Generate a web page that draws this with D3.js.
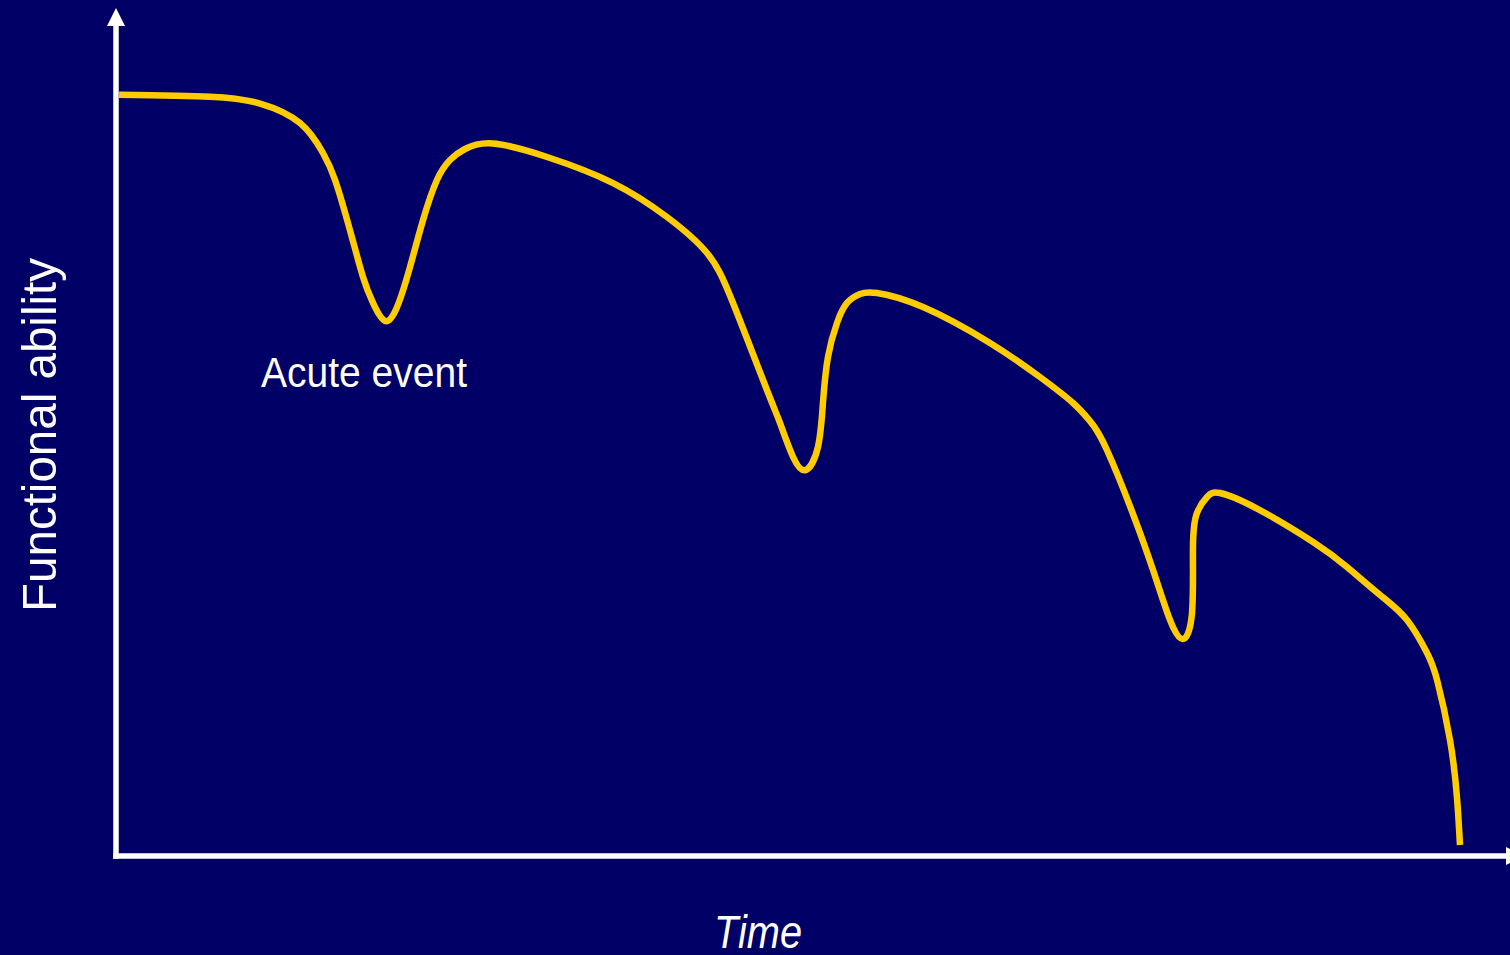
<!DOCTYPE html>
<html>
<head>
<meta charset="utf-8">
<script src="https://cdn.jsdelivr.net/npm/d3@7/dist/d3.min.js"></script>
<style>
  html, body { margin: 0; padding: 0; background: #000066; overflow: hidden; }
  svg { display: block; }
</style>
</head>
<body>
<svg id="chart" width="1510" height="955"></svg>
<script>
// Time (0–100) along the course of decline
const timePoints = [
  0.22, 6.76, 10.36, 13.24, 14.89, 15.76, 16.83, 17.77, 18.49, 19.35, 20.22,
  21.15, 22.09, 23.09, 24.03, 25.11, 27.12, 31.01, 35.76, 39.64, 42.52, 44.39,
  46.83, 47.77, 48.71, 49.64, 50.50, 50.86, 51.22, 51.87, 52.59,
  53.53, 54.75, 58.06, 62.88, 66.47, 68.85, 70.07, 71.29, 73.67, 75.32, 76.04,
  76.76, 77.41, 77.48, 77.77, 78.49, 79.42, 82.09, 86.12, 88.56,
  90.94, 92.88, 94.32, 95.04, 95.97, 96.47, 96.69
];
// Functional ability (0–100) at each time point
const abilityValues = [
  91.72, 91.48, 90.66, 88.31, 84.70, 81.45, 75.42, 69.76, 66.63, 64.46, 66.14,
  70.96, 76.63, 81.45, 83.86, 85.18, 85.84, 84.22, 81.08, 76.99, 72.65, 66.63,
  56.14, 52.17, 48.07, 46.51, 49.28, 54.58, 60.12, 64.22, 66.63,
  67.71, 67.83, 66.14, 61.81, 57.71, 54.58, 52.41, 48.92, 38.92, 30.84, 27.59,
  26.14, 29.28, 37.23, 41.33, 43.25, 43.73, 41.85, 37.83, 34.82,
  31.45, 28.43, 24.46, 21.20, 13.98, 7.11, 1.33
];
const xAxisTitle = "Time";
const yAxisTitle = "Functional ability";
const eventLabel = "Acute event";

const svg = d3.select("#chart");
const W = 1510, H = 955;

svg.append("rect").attr("width", W).attr("height", H).attr("fill", "#000066");

const x = d3.scaleLinear().domain([0, 100]).range([116, 1506]);
const y = d3.scaleLinear().domain([0, 100]).range([856, 26]);

const axisColor = "#ffffff";
const axisWidth = 5.5;

// y axis with arrow head
svg.append("line")
  .attr("x1", x(0)).attr("x2", x(0))
  .attr("y1", y(0) + axisWidth / 2).attr("y2", y(100))
  .attr("stroke", axisColor).attr("stroke-width", axisWidth);
svg.append("path")
  .attr("d", `M${x(0) - 9},${y(100)} L${x(0)},${y(100) - 18} L${x(0) + 9},${y(100)} Z`)
  .attr("fill", axisColor);

// x axis with arrow head
svg.append("line")
  .attr("x1", x(0) - axisWidth / 2).attr("x2", x(100))
  .attr("y1", y(0)).attr("y2", y(0))
  .attr("stroke", axisColor).attr("stroke-width", axisWidth);
svg.append("path")
  .attr("d", `M${x(100)},${y(0) - 9} L${x(100) + 18},${y(0)} L${x(100)},${y(0) + 9} Z`)
  .attr("fill", axisColor);

// Trajectory of functional ability
const data = timePoints.map((t, i) => ({ t, v: abilityValues[i] }));
const line = d3.line()
  .x(d => x(d.t))
  .y(d => y(d.v))
  .curve(d3.curveNatural);

svg.append("path")
  .datum(data)
  .attr("d", line)
  .attr("fill", "none")
  .attr("stroke", "#ffcc00")
  .attr("stroke-width", 6.5)
  .attr("stroke-linecap", "butt")
  .attr("stroke-linejoin", "round");

// Labels
svg.append("text")
  .attr("x", 261).attr("y", 387)
  .attr("font-family", "Liberation Sans, Arial, sans-serif")
  .attr("font-size", 42)
  .attr("textLength", 206)
  .attr("lengthAdjust", "spacingAndGlyphs")
  .attr("fill", "#ffffff")
  .text(eventLabel);

svg.append("text")
  .attr("x", 758).attr("y", 948)
  .attr("text-anchor", "middle")
  .attr("font-family", "Liberation Sans, Arial, sans-serif")
  .attr("font-style", "italic")
  .attr("font-size", 46)
  .attr("textLength", 88)
  .attr("lengthAdjust", "spacingAndGlyphs")
  .attr("fill", "#ffffff")
  .text(xAxisTitle);

svg.append("text")
  .attr("transform", "translate(56,612) rotate(-90)")
  .attr("font-family", "Liberation Sans, Arial, sans-serif")
  .attr("font-size", 49)
  .attr("textLength", 354)
  .attr("lengthAdjust", "spacingAndGlyphs")
  .attr("fill", "#ffffff")
  .text(yAxisTitle);
</script>
</body>
</html>
